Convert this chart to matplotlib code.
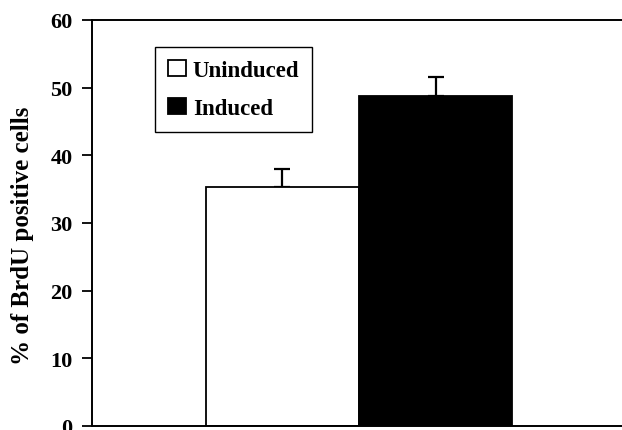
import numpy as np
import matplotlib.pyplot as plt

groups = ["Uninduced", "Induced"]
values = [35.3, 48.7]
errors = [2.7, 2.9]
colors = ["white", "black"]
y_ticks = [0, 10, 20, 30, 40, 50, 60]

plt.rcParams['font.family'] = ['Liberation Serif', 'DejaVu Serif']
plt.rcParams['font.weight'] = 'bold'


def main():
    fig = plt.figure(figsize=(6.22, 4.31), dpi=100)
    ax = fig.add_axes([92 / 622, 1 - 427 / 431, 534 / 622, 406 / 431])

    x = np.arange(len(groups))
    bars = ax.bar(x, values, width=1.0, color=colors, edgecolor="black",
                  linewidth=1.3, label=groups, zorder=2)
    # one-sided (upper) error bars
    ax.errorbar(x, values, yerr=[np.zeros(len(errors)), errors], fmt="none",
                ecolor="black", elinewidth=1.6, capsize=6, capthick=1.6, zorder=1)

    ax.set_xlim(-1.245, 2.245)
    ax.set_ylim(0, 60)
    ax.set_yticks(y_ticks)
    ax.set_yticklabels([str(t) for t in y_ticks], fontsize=16, fontweight="bold")
    ax.set_xticks([])
    ax.tick_params(axis="y", direction="out", length=7, width=1.3, pad=7)
    ax.set_ylabel("% of BrdU positive cells", fontsize=18, fontweight="bold", va="center")
    ax.yaxis.set_label_coords(-0.131, 0.47)

    for side in ["left", "bottom", "top"]:
        ax.spines[side].set_linewidth(1.4)
    ax.spines["right"].set_visible(False)

    leg = ax.legend(bars, groups, loc="upper left", bbox_to_anchor=(0.118, 0.933),
                    fancybox=False, edgecolor="black", framealpha=1,
                    prop={"size": 16.5, "weight": "bold"},
                    handlelength=0.8, handleheight=0.7, handletextpad=0.3,
                    labelspacing=0.75, borderpad=0.55, borderaxespad=0)
    leg.get_frame().set_linewidth(1.0)

    fig.savefig("out.png", dpi=100)


main()
